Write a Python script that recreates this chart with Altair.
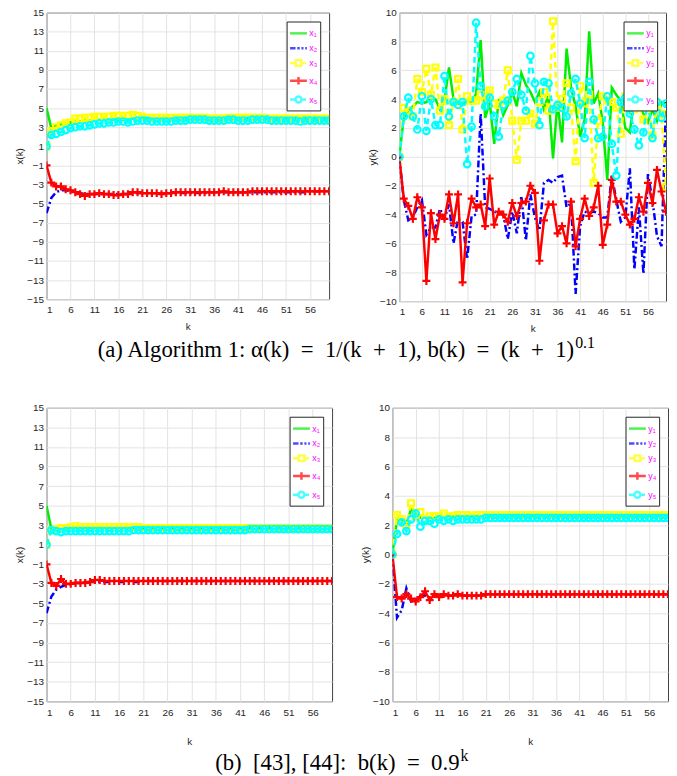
import altair as alt
import pandas as pd

K = list(range(1, 61))
XTICKS = [1, 6, 11, 16, 21, 26, 31, 36, 41, 46, 51, 56]
YTICKS_X = list(range(-15, 16, 2))
YTICKS_Y = list(range(-10, 11, 2))

NAMES_X = ["x₁", "x₂", "x₃", "x₄", "x₅"]
NAMES_Y = ["y₁", "y₂", "y₃", "y₄", "y₅"]

# ---------------- (a) Algorithm 1: x(k) ----------------
a_x1 = [5.0, 2.9, 3.2, 3.3, 3.4, 3.5, 3.6, 3.6, 3.7, 3.7,
        3.7, 3.8, 3.8, 3.8, 3.8, 3.8, 3.8, 3.8, 3.9, 3.9,
        3.9, 3.9, 3.9, 3.9, 3.9, 3.9, 3.9, 3.9, 3.9, 3.9,
        3.9, 3.9, 3.9, 3.9, 3.9, 3.9, 3.9, 3.9, 3.9, 3.9,
        3.9, 3.9, 3.9, 3.9, 3.9, 3.9, 3.9, 3.9, 3.9, 3.9,
        3.9, 3.9, 3.9, 3.9, 3.9, 3.9, 3.9, 3.9, 3.9, 3.9]
a_x2 = [-6.0, -4.4, -3.8, -3.6, -3.6, -3.7, -3.8, -3.9, -4.0, -4.0,
        -4.0, -4.0, -4.0, -4.0, -4.0, -4.0, -4.0, -4.0, -3.9, -3.9,
        -3.9, -3.9, -3.9, -3.9, -3.9, -3.9, -3.9, -3.9, -3.9, -3.9,
        -3.9, -3.9, -3.9, -3.9, -3.8, -3.8, -3.8, -3.8, -3.8, -3.8,
        -3.8, -3.8, -3.8, -3.8, -3.8, -3.8, -3.8, -3.8, -3.8, -3.8,
        -3.8, -3.8, -3.8, -3.8, -3.8, -3.7, -3.7, -3.7, -3.7, -3.7]
a_x3 = [1.0, 2.6, 3.0, 3.2, 3.4, 3.5, 3.9, 3.9, 4.0, 4.0,
        4.1, 4.1, 4.1, 4.1, 4.2, 4.2, 4.2, 4.2, 4.3, 4.2,
        4.1, 4.0, 4.0, 4.0, 4.0, 4.0, 4.0, 4.0, 4.0, 4.0,
        4.0, 4.0, 4.0, 4.0, 3.9, 3.9, 3.9, 3.9, 4.0, 4.0,
        4.0, 4.0, 4.0, 4.0, 4.0, 4.0, 3.9, 3.9, 3.9, 3.9,
        3.9, 3.9, 3.9, 3.9, 3.9, 3.9, 3.9, 3.9, 3.9, 3.9]
a_x4 = [-1.0, -2.8, -3.2, -3.2, -3.5, -3.6, -3.8, -4.0, -4.2, -4.0,
        -4.0, -3.9, -4.0, -4.0, -4.1, -4.1, -4.0, -4.0, -3.8, -3.8,
        -3.9, -3.9, -3.9, -3.9, -4.0, -3.9, -3.9, -3.8, -3.8, -3.8,
        -3.8, -3.8, -3.8, -3.8, -3.8, -3.8, -3.8, -3.7, -3.8, -3.8,
        -3.8, -3.8, -3.8, -3.7, -3.7, -3.7, -3.7, -3.7, -3.7, -3.7,
        -3.7, -3.7, -3.7, -3.7, -3.7, -3.7, -3.7, -3.7, -3.7, -3.7]
a_x5 = [1.0, 2.2, 2.3, 2.5, 2.7, 2.9, 3.0, 3.1, 3.1, 3.2,
        3.3, 3.4, 3.4, 3.5, 3.5, 3.6, 3.6, 3.5, 3.6, 3.7,
        3.7, 3.7, 3.6, 3.6, 3.6, 3.6, 3.6, 3.7, 3.7, 3.7,
        3.8, 3.8, 3.8, 3.8, 3.7, 3.7, 3.7, 3.7, 3.8, 3.8,
        3.7, 3.7, 3.7, 3.8, 3.8, 3.8, 3.8, 3.7, 3.7, 3.7,
        3.7, 3.7, 3.7, 3.6, 3.7, 3.7, 3.7, 3.7, 3.7, 3.7]

# ---------------- (a) Algorithm 1: y(k) ----------------
a_y1 = [0.0, 2.7, 3.2, 3.5, 3.8, 3.7, 3.8, 4.1, 4.0, 3.3,
        3.9, 6.2, 4.0, 3.7, 3.6, 3.9, 3.7, 4.4, 8.1, 2.7,
        3.8, 0.9, 4.0, 2.9, 3.6, 4.5, 3.5, 5.8, 5.0, 4.5,
        3.8, 4.5, 3.3, 4.3, -0.1, 3.8, 1.0, 7.5, 4.8, 3.5,
        1.4, 2.6, 8.7, 3.7, 4.4, 2.4, -1.6, 4.8, 4.3, 3.9,
        2.0, 1.7, 4.3, 3.5, 3.0, 2.4, 3.3, 2.5, 3.8, 3.7]
a_y2 = [0.0, -3.0, -4.4, -4.2, -3.5, -3.0, -5.4, -4.9, -4.9, -3.6,
        -4.3, -3.3, -6.0, -4.3, -4.5, -7.1, -4.1, -4.0, 3.0, -3.5,
        -3.6, -3.8, -3.9, -4.0, -5.7, -3.8, -5.3, -2.7, -5.8, -2.6,
        -4.2, -5.1, -1.8, -1.6, -1.8, -1.4, -1.3, -3.5, -3.2, -9.5,
        -4.8, -3.8, -3.9, -3.8, -3.9, -4.2, -4.2, -1.3, -3.0, -4.5,
        -4.2, -0.8, -7.8, -3.5, -8.1, -1.2, -3.0, -5.5, -6.2, 3.8]
a_y3 = [0.0, 3.4, 3.2, 2.8, 5.4, 4.5, 6.1, 4.3, 6.2, 3.2,
        4.0, 2.2, 3.8, 5.4, 1.9, 4.2, 3.9, 3.9, 4.3, 4.0,
        4.6, 3.7, 3.6, 3.9, 6.0, 2.5, -0.2, 2.5, 2.5, 3.0,
        2.3, 3.8, 4.5, 3.2, 9.4, 3.4, 4.0, 5.1, 3.4, -0.3,
        4.9, 3.7, 4.3, -1.8, 2.5, 4.2, 3.9, 3.8, 3.4, 1.6,
        4.2, 3.8, 3.3, 3.5, 2.6, 3.8, 1.5, 3.6, 3.0, -2.1]
a_y4 = [0.0, -2.9, -3.4, -4.3, -2.8, -3.5, -8.6, -3.9, -5.7, -4.0,
        -4.3, -2.6, -4.6, -2.6, -8.7, -4.6, -2.9, -3.5, -3.3, -4.8,
        -1.5, -4.7, -3.8, -4.0, -4.5, -3.2, -4.1, -3.2, -3.1, -2.0,
        -2.5, -7.2, -4.4, -3.3, -3.3, -5.3, -4.8, -6.0, -3.1, -6.2,
        -4.3, -2.9, -4.1, -3.5, -2.0, -6.1, -4.7, -1.6, -3.1, -3.1,
        -4.0, -4.7, -4.3, -2.8, -3.8, -1.8, -3.2, -0.9, -2.4, -3.8]
a_y5 = [0.0, 2.8, 4.1, 2.8, 1.9, 4.2, 1.8, 4.0, 2.2, 2.2,
        5.6, 2.8, 3.8, 3.6, 3.8, -0.5, 2.1, 9.3, 4.9, 3.5,
        4.1, 2.8, 1.4, 3.6, 3.9, 4.5, 5.4, 4.3, 3.2, 7.0,
        5.1, 2.2, 5.2, 5.1, 3.3, 3.6, 3.4, 2.8, 4.4, 5.4,
        3.7, 1.3, 5.2, 2.6, 1.3, 1.4, 4.2, 0.9, -1.3, 3.8,
        4.1, 3.0, 1.9, 0.8, 1.7, 4.0, 1.3, 3.8, 2.7, 3.7]

# ---------------- (b) [43],[44]: x(k) ----------------
b_x1 = [5.0, 2.6, 2.6, 2.6, 2.6, 2.7, 2.7, 2.7, 2.7, 2.7,
        2.7, 2.7, 2.7, 2.7, 2.7, 2.7, 2.7, 2.7, 2.7, 2.7,
        2.7, 2.7, 2.7, 2.7, 2.7, 2.7, 2.7, 2.7, 2.7, 2.7,
        2.7, 2.7, 2.7, 2.7, 2.7, 2.7, 2.7, 2.7, 2.7, 2.7,
        2.7, 2.7, 2.7, 2.7, 2.7, 2.7, 2.7, 2.7, 2.7, 2.7,
        2.7, 2.7, 2.7, 2.7, 2.7, 2.7, 2.7, 2.7, 2.7, 2.7]
b_x2 = [-6.0, -4.3, -3.6, -3.3, -3.1, -3.0, -2.9, -2.9, -2.8, -2.8,
        -2.8, -2.8, -2.8, -2.8, -2.8, -2.8, -2.8, -2.8, -2.8, -2.8,
        -2.7, -2.7, -2.7, -2.7, -2.7, -2.7, -2.7, -2.7, -2.7, -2.7,
        -2.7, -2.7, -2.7, -2.7, -2.7, -2.7, -2.7, -2.7, -2.7, -2.7,
        -2.7, -2.7, -2.7, -2.7, -2.7, -2.7, -2.7, -2.7, -2.7, -2.7,
        -2.7, -2.7, -2.7, -2.7, -2.7, -2.7, -2.7, -2.7, -2.7, -2.7]
b_x3 = [1.0, 2.5, 2.6, 2.7, 2.7, 2.8, 2.9, 2.8, 2.8, 2.8,
        2.8, 2.8, 2.8, 2.8, 2.8, 2.8, 2.8, 2.8, 2.8, 2.8,
        2.7, 2.7, 2.7, 2.7, 2.7, 2.7, 2.7, 2.7, 2.7, 2.7,
        2.7, 2.7, 2.7, 2.7, 2.7, 2.7, 2.7, 2.7, 2.7, 2.7,
        2.7, 2.7, 2.7, 2.7, 2.7, 2.7, 2.7, 2.7, 2.7, 2.7,
        2.7, 2.7, 2.7, 2.7, 2.7, 2.7, 2.7, 2.7, 2.7, 2.7]
b_x4 = [-1.0, -2.9, -3.2, -2.5, -3.0, -3.0, -2.9, -2.9, -2.9, -2.8,
        -2.6, -2.6, -2.7, -2.7, -2.7, -2.7, -2.7, -2.7, -2.7, -2.7,
        -2.7, -2.7, -2.7, -2.7, -2.7, -2.7, -2.7, -2.7, -2.7, -2.7,
        -2.7, -2.7, -2.7, -2.7, -2.7, -2.7, -2.7, -2.7, -2.7, -2.7,
        -2.7, -2.7, -2.7, -2.7, -2.7, -2.7, -2.7, -2.7, -2.7, -2.7,
        -2.7, -2.7, -2.7, -2.7, -2.7, -2.7, -2.7, -2.7, -2.7, -2.7]
b_x5 = [1.0, 2.5, 2.4, 2.3, 2.4, 2.4, 2.4, 2.4, 2.4, 2.4,
        2.4, 2.4, 2.4, 2.4, 2.4, 2.4, 2.4, 2.4, 2.5, 2.5,
        2.5, 2.5, 2.5, 2.5, 2.5, 2.5, 2.5, 2.5, 2.5, 2.5,
        2.5, 2.5, 2.5, 2.5, 2.5, 2.5, 2.5, 2.5, 2.5, 2.5,
        2.5, 2.5, 2.6, 2.6, 2.6, 2.6, 2.6, 2.6, 2.6, 2.6,
        2.6, 2.6, 2.6, 2.6, 2.6, 2.6, 2.6, 2.6, 2.6, 2.6]

# ---------------- (b) [43],[44]: y(k) ----------------
b_y1 = [0.0, 2.4, 2.4, 2.1, 3.1, 2.8, 2.5, 2.5, 2.5, 2.5,
        2.6, 2.6, 2.6, 2.6, 2.6, 2.6, 2.6, 2.6, 2.6, 2.6,
        2.6, 2.6, 2.6, 2.6, 2.6, 2.6, 2.6, 2.6, 2.6, 2.6,
        2.6, 2.6, 2.6, 2.6, 2.6, 2.6, 2.6, 2.6, 2.6, 2.6,
        2.6, 2.6, 2.6, 2.6, 2.6, 2.6, 2.6, 2.6, 2.6, 2.6,
        2.6, 2.6, 2.6, 2.6, 2.6, 2.6, 2.6, 2.6, 2.6, 2.6]
b_y2 = [0.0, -4.3, -3.8, -2.3, -3.2, -3.1, -2.8, -2.8, -3.0, -2.8,
        -2.8, -2.8, -2.8, -2.8, -2.8, -2.8, -2.8, -2.8, -2.8, -2.8,
        -2.7, -2.7, -2.7, -2.7, -2.7, -2.7, -2.7, -2.7, -2.7, -2.7,
        -2.7, -2.7, -2.7, -2.7, -2.7, -2.7, -2.7, -2.7, -2.7, -2.7,
        -2.7, -2.7, -2.7, -2.7, -2.7, -2.7, -2.7, -2.7, -2.7, -2.7,
        -2.7, -2.7, -2.7, -2.7, -2.7, -2.7, -2.7, -2.7, -2.7, -2.7]
b_y3 = [0.0, 2.7, 2.4, 2.0, 3.5, 2.6, 2.9, 2.4, 2.6, 2.6,
        2.6, 2.8, 2.6, 2.6, 2.7, 2.7, 2.7, 2.6, 2.7, 2.7,
        2.7, 2.7, 2.7, 2.7, 2.7, 2.7, 2.7, 2.7, 2.7, 2.7,
        2.7, 2.7, 2.7, 2.7, 2.7, 2.7, 2.7, 2.7, 2.7, 2.7,
        2.7, 2.7, 2.7, 2.7, 2.7, 2.7, 2.7, 2.7, 2.7, 2.7,
        2.7, 2.7, 2.7, 2.7, 2.7, 2.7, 2.7, 2.7, 2.7, 2.7]
b_y4 = [0.0, -2.9, -3.0, -2.7, -3.0, -3.2, -2.9, -2.5, -3.1, -2.7,
        -2.9, -2.7, -2.8, -2.8, -2.7, -2.8, -2.8, -2.8, -2.8, -2.8,
        -2.7, -2.7, -2.7, -2.7, -2.7, -2.7, -2.7, -2.7, -2.7, -2.7,
        -2.7, -2.7, -2.7, -2.7, -2.7, -2.7, -2.7, -2.7, -2.7, -2.7,
        -2.7, -2.7, -2.7, -2.7, -2.7, -2.7, -2.7, -2.7, -2.7, -2.7,
        -2.7, -2.7, -2.7, -2.7, -2.7, -2.7, -2.7, -2.7, -2.7, -2.7]
b_y5 = [0.0, 1.4, 2.2, 1.6, 2.4, 2.8, 1.9, 2.3, 2.3, 2.1,
        2.4, 2.3, 2.4, 2.3, 2.4, 2.4, 2.4, 2.4, 2.4, 2.4,
        2.5, 2.5, 2.5, 2.5, 2.5, 2.5, 2.5, 2.5, 2.5, 2.5,
        2.5, 2.5, 2.5, 2.5, 2.5, 2.5, 2.5, 2.5, 2.5, 2.5,
        2.5, 2.5, 2.5, 2.5, 2.5, 2.5, 2.5, 2.5, 2.5, 2.5,
        2.5, 2.5, 2.5, 2.5, 2.5, 2.5, 2.5, 2.5, 2.5, 2.5]

SP = "\u2002"
CAPTION_A = f"(a) Algorithm 1: α(k){SP}={SP}1/(k{SP}+{SP}1), b(k){SP}={SP}(k{SP}+{SP}1)"
CAPTION_A_SUP = "0.1"
CAPTION_B = f"(b){SP}[43], [44]:{SP}b(k){SP}={SP}0.9"
CAPTION_B_SUP = "k"

# ---------------- styles ----------------
COLORS = ["#00ee00", "#0000ff", "#ffff00", "#ff0000", "#00ffff"]
DASHES = [[1, 0], [7, 3, 2, 3], [6, 4], [1, 0], [6, 4]]
PLUS = "M-1,0H1M0,-1V1"
MARKERS = [None, None, ("square", 36), (PLUS, 64), ("circle", 44)]
LEGEND_PATHS = [
    "M-1,0H1",
    "M-1,0H-0.35M-0.15,0H0.15M0.35,0H0.6M0.8,0H1",
    "M-1,0H-0.33M-0.33,-0.33H0.33V0.33H-0.33ZM0.5,0H0.9",
    "M-1,0H1M0,-0.45V0.45",
    "M-1,0H-0.36M0.36,0A0.36,0.36 0 1 1 -0.36,0A0.36,0.36 0 1 1 0.36,0M0.5,0H0.9",
]


def panel(series, names, ydom, yticks, ytitle, w, h, xtitle_pad):
    df = pd.concat(
        [pd.DataFrame({"k": K, "v": s, "name": n}) for s, n in zip(series, names)],
        ignore_index=True,
    )
    base = alt.Chart(df)
    xenc = alt.X("k:Q", scale=alt.Scale(domain=[1, 60], nice=False, zero=False),
                 axis=alt.Axis(values=XTICKS, title="k", titlePadding=xtitle_pad))
    yenc = alt.Y("v:Q", scale=alt.Scale(domain=ydom, nice=False, zero=False),
                 axis=alt.Axis(values=yticks, title=ytitle))
    layers = []
    for i, n in enumerate(names):
        sub = base.transform_filter(alt.datum.name == n)
        layers.append(
            sub.mark_line(color=COLORS[i], strokeWidth=2.5, strokeDash=DASHES[i], clip=True)
            .encode(x=xenc, y=yenc)
        )
        if MARKERS[i]:
            shp, sz = MARKERS[i]
            layers.append(
                sub.mark_point(shape=shp, size=sz, color=COLORS[i], filled=False,
                               strokeWidth=2.2, opacity=1, clip=True)
                .encode(x=xenc, y=yenc)
            )
    leg_df = pd.DataFrame({"name": names})
    legend_layer = (
        alt.Chart(leg_df)
        .transform_filter("false")
        .mark_point(filled=False, strokeWidth=2.5)
        .encode(
            shape=alt.Shape("name:N", scale=alt.Scale(domain=names, range=LEGEND_PATHS),
                            legend=alt.Legend(title=None)),
            color=alt.Color("name:N", scale=alt.Scale(domain=names, range=COLORS),
                            legend=alt.Legend(title=None)),
        )
    )
    layers.append(legend_layer)
    return alt.layer(*layers).properties(width=w, height=h)


def caption(text, sup, w, xend):
    src = alt.Chart(pd.DataFrame({"t": [text], "s": [sup]}))
    main = src.mark_text(font="Liberation Serif", fontSize=23, color="#000000",
                         align="right", baseline="middle").encode(
        text="t:N", x=alt.value(xend), y=alt.value(14))
    upper = src.mark_text(font="Liberation Serif", fontSize=16, color="#000000",
                          align="left", baseline="middle", dx=1).encode(
        text="s:N", x=alt.value(xend), y=alt.value(6))
    return alt.layer(main, upper).properties(
        width=w, height=26, view=alt.ViewBackground(strokeOpacity=0))


tl = panel([a_x1, a_x2, a_x3, a_x4, a_x5], NAMES_X, [-15, 15], YTICKS_X, "x(k)", 286, 290, 7)
tr = panel([a_y1, a_y2, a_y3, a_y4, a_y5], NAMES_Y, [-10, 10], YTICKS_Y, "y(k)", 270, 292, 7)
bl = panel([b_x1, b_x2, b_x3, b_x4, b_x5], NAMES_X, [-15, 15], YTICKS_X, "x(k)", 289, 297, 20)
br = panel([b_y1, b_y2, b_y3, b_y4, b_y5], NAMES_Y, [-10, 10], YTICKS_Y, "y(k)", 279, 297, 20)


def row(a, b, sp):
    return (
        alt.hconcat(a, b, spacing=sp)
        .resolve_scale(color="independent", shape="independent")
        .resolve_legend(color="independent", shape="independent")
    )


block_a = alt.vconcat(row(tl, tr, 37), caption(CAPTION_A, CAPTION_A_SUP, 600, 534), spacing=0)
block_b = alt.vconcat(row(bl, br, 27), caption(CAPTION_B, CAPTION_B_SUP, 600, 418), spacing=0)

chart = (
    alt.vconcat(block_a, block_b, spacing=40)
    .resolve_scale(color="independent", shape="independent")
    .resolve_legend(color="independent", shape="independent")
    .properties(padding={"left": 6, "top": -6, "right": 0, "bottom": 0},
                background="#ffffff")
    .configure_view(stroke="#404040", strokeWidth=1)
    .configure_axis(
        labelFont="Liberation Sans", labelFontSize=10, labelColor="#262626",
        titleFont="Liberation Sans", titleFontSize=10, titleFontWeight="normal",
        titleColor="#262626", gridColor="#e3e3e3", gridWidth=1, domain=False,
        ticks=False, labelPadding=6,
    )
    .configure_axisY(titlePadding=2, labelPadding=3)
    .configure_legend(
        orient="top-right", offset=9, padding=2, strokeColor="#262626",
        fillColor="#ffffff", symbolSize=289, symbolStrokeWidth=2.5,
        labelColor="#ff00ff", labelFont="Liberation Sans", labelFontSize=9,
        labelOffset=1, rowPadding=0, symbolType="circle",
    )
)

chart.save("out.html", embed_options={"renderer": "svg", "actions": False})
